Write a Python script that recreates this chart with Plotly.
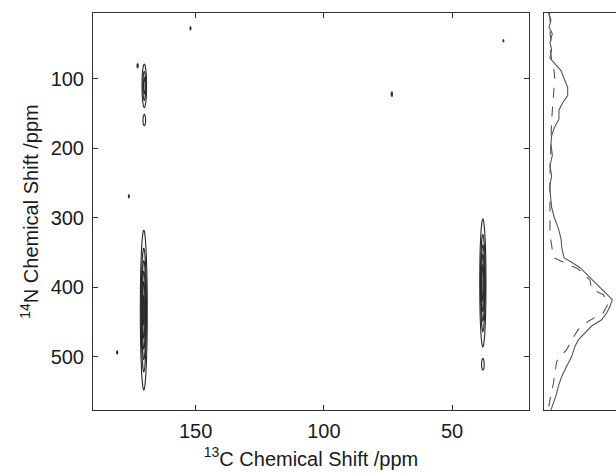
import numpy as np
import plotly.graph_objects as go

# ---- data ----
# 2D peaks: 13C shift (ppm), 14N shift (ppm), widths (ppm), relative intensity
peak_c = [170.0, 170.0, 170.2, 38.0, 38.0, 152.0, 172.6, 176.0, 180.6, 73.5, 30.0]
peak_n = [110.0, 160.0, 433.0, 394.0, 512.0, 27.0, 81.0, 269.0, 494.0, 122.0, 45.0]
peak_wc = [0.50, 0.40, 0.65, 0.60, 0.40, 0.30, 0.30, 0.30, 0.30, 0.30, 0.30]
peak_wn = [18.0, 6.0, 56.0, 46.0, 6.0, 3.5, 4.0, 3.5, 3.5, 4.5, 3.0]
peak_amp = [0.55, 0.25, 1.00, 0.90, 0.22, 0.16, 0.17, 0.16, 0.16, 0.17, 0.15]

# 1D projections on the 14N axis
proj_n = [4, 15, 25, 35, 47, 58, 70, 80, 88, 100, 112, 124, 135, 145, 158, 170, 182,
          195, 210, 225, 240, 255, 270, 285, 300, 315, 330, 345, 358, 364, 372, 384,
          392, 404, 413, 418, 423, 428, 437, 447, 456, 466, 476, 485, 500, 514, 529,
          543, 553, 567, 577]
proj_solid = [6, 9.7, 7, 11.6, 8.3, 10.6, 8.3, 16.2, 23.6, 28.2, 32.9, 32.9, 25.5,
              20.8, 20.8, 14.4, 10.6, 9.7, 11.6, 8.3, 10.6, 7.9, 9.7, 10.6, 14.4, 19.9,
              23.6, 25.0, 28.0, 38.4, 50.0, 61.6, 68.5, 80.0, 89.4, 94.9, 93.0, 91.7,
              87.1, 80.1, 66.2, 56.9, 47.7, 43.1, 38.4, 31.5, 24.5, 19.9, 17.6, 13.0, 9.7]
proj_dash_n = [4, 20, 35, 47, 60, 75, 88, 100, 112, 124, 140, 160, 180, 200, 230, 260,
               274, 302, 325, 346, 358, 374, 390, 403, 411, 423, 437, 449, 461, 476,
               490, 507, 524, 539, 562, 577]
proj_dash = [7, 9, 8.5, 10, 9, 11, 14, 15, 14, 13, 11.5, 10.6, 10, 9, 8.5, 8.3,
             8.3, 8.3, 8.3, 11.6, 14.4, 47.7, 63.9, 66.2, 82.4, 89.4, 82.4, 61.6,
             47.7, 38.4, 31.5, 17.6, 15.3, 13.0, 8.3, 6.0]

c_ticks = [50, 100, 150]
n_ticks = [100, 200, 300, 400, 500]

# ---- build spectrum grid from peak list ----
xc = np.arange(20.0, 190.01, 0.3)
yn = np.arange(0.0, 580.01, 2.0)
X, Y = np.meshgrid(xc, yn)
Z = np.zeros_like(X)
for c, n, wc, wn, a in zip(peak_c, peak_n, peak_wc, peak_wn, peak_amp):
    Z += a * np.exp(-0.5 * ((X - c) / wc) ** 2 - 0.5 * ((Y - n) / wn) ** 2)
Z = np.round(Z, 3)

fig = go.Figure()
fig.add_trace(go.Contour(
    x=np.round(xc, 2), y=yn, z=Z,
    contours=dict(start=0.12, end=0.92, size=0.16, coloring="fill"),
    zmin=0, zmax=1,
    colorscale=[[0, "#ffffff"], [0.12, "#ffffff"], [0.3, "#dcdcdc"], [1, "#aaaaaa"]],
    line=dict(color="#2a2a2a", width=1.1),
    showscale=False, hoverinfo="skip",
))
fig.add_trace(go.Scatter(
    x=proj_solid, y=proj_n, mode="lines", xaxis="x2", yaxis="y2",
    line=dict(color="#555555", width=1.1), showlegend=False,
))
fig.add_trace(go.Scatter(
    x=proj_dash, y=proj_dash_n, mode="lines", xaxis="x2", yaxis="y2",
    line=dict(color="#555555", width=1.1, dash="10px,9px"), showlegend=False,
))

font = dict(family="Liberation Sans, Arial, sans-serif", size=20, color="#1a1a1a")
axcommon = dict(showgrid=False, zeroline=False, showline=True, linecolor="#333333",
                linewidth=1, ticks="inside", ticklen=5, tickcolor="#333333",
                tickfont=font, automargin=False)

fig.update_layout(
    width=616, height=473,
    margin=dict(l=93, r=0, t=13, b=63),
    paper_bgcolor="white", plot_bgcolor="white",
    font=font, showlegend=False,
    xaxis=dict(domain=[0, 0.8337], range=[190, 20], tickvals=c_ticks,
               mirror="ticks", ticklabelstandoff=3,
               title=dict(text="<sup>13</sup>C Chemical Shift /ppm", font=font, standoff=10),
               **axcommon),
    yaxis=dict(range=[577, 5], tickvals=n_ticks, mirror="ticks",
               ticklabelstandoff=4,
               title=dict(text="<sup>14</sup>N Chemical Shift /ppm", font=font, standoff=6),
               **axcommon),
    xaxis2=dict(domain=[0.8623, 1], range=[0, 100], anchor="y2", showgrid=False,
                zeroline=False, showline=True, mirror=True, linecolor="#333333",
                linewidth=1, ticks="", showticklabels=False, automargin=False),
    yaxis2=dict(range=[577, 5], anchor="x2", showgrid=False, zeroline=False,
                showline=True, linecolor="#333333", linewidth=1, ticks="",
                showticklabels=False, automargin=False),
)

# remove the default page margin so the figure sits at the window's corner
fig.write_html(
    "out.html",
    config={"displayModeBar": False},
    post_script="document.body.style.margin='0';"
                "document.documentElement.style.overflow='hidden';",
)
